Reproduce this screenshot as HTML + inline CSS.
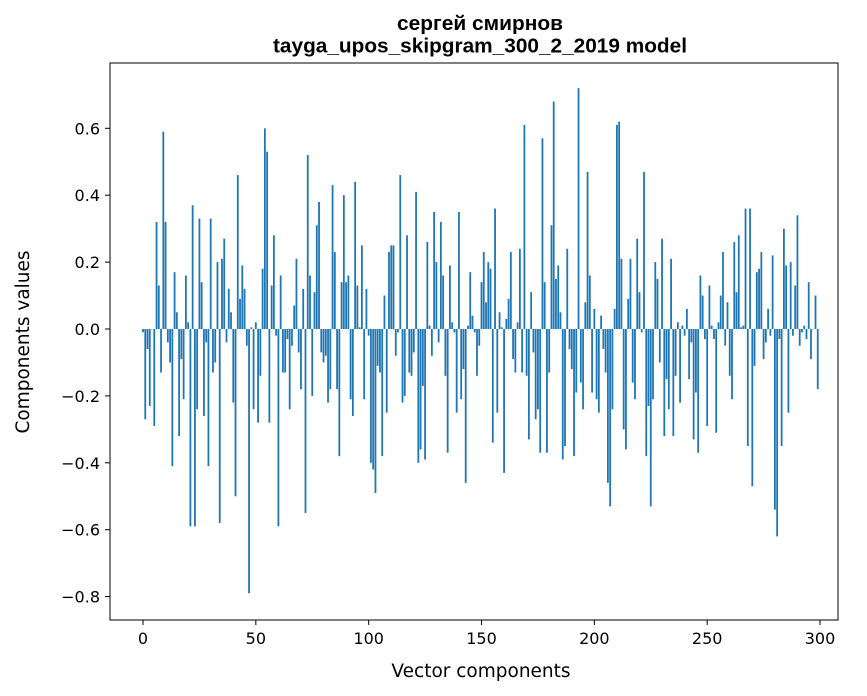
<!DOCTYPE html>
<html><head><meta charset="utf-8"><style>
html,body{margin:0;padding:0;background:#fff;}
svg{display:block;font-family:"DejaVu Sans","Liberation Sans",sans-serif;}
</style></head><body>
<svg id="chart" width="867" height="696" viewBox="0 0 867 696" xmlns="http://www.w3.org/2000/svg">
<rect width="867" height="696" fill="#fff"/>
<text x="480" y="30" text-anchor="middle" font-size="20.5" font-weight="bold" font-family="Liberation Sans, sans-serif" textLength="166" lengthAdjust="spacingAndGlyphs">сергей смирнов</text>
<text x="480" y="52.5" text-anchor="middle" font-size="20.5" font-weight="bold" font-family="Liberation Sans, sans-serif" textLength="414" lengthAdjust="spacingAndGlyphs">tayga_upos_skipgram_300_2_2019 model</text>
<g id="bars"></g>
<g id="axes"></g>
<rect x="110" y="63" width="728" height="557" fill="none" stroke="#000" stroke-width="1"/>
<text x="481" y="677" text-anchor="middle" font-size="18.5">Vector components</text>
<text transform="translate(29,342) rotate(-90)" text-anchor="middle" font-size="18.5">Components values</text>
</svg>
<script>
const values = [
-0.01,-0.27,-0.06,-0.23,0,-0.29,0.32,0.13,-0.13,0.59,
0.32,-0.04,-0.10,-0.41,0.17,0.05,-0.32,-0.09,-0.21,0.16,
0.02,-0.59,0.37,-0.59,-0.24,0.33,0.14,-0.26,-0.04,-0.41,
0.33,-0.13,-0.10,0.20,-0.58,0.21,0.27,-0.04,0.12,0.05,
-0.22,-0.50,0.46,0.09,0.19,0.12,-0.05,-0.79,0.005,-0.24,
0.02,-0.28,-0.14,0.18,0.60,0.53,-0.28,0.13,0.28,-0.02,
-0.59,0.16,-0.13,-0.13,-0.03,-0.24,-0.05,0.07,0.21,-0.07,
-0.18,0.12,-0.55,0.52,0.16,-0.20,0.11,0.31,0.38,-0.07,
-0.10,-0.08,-0.22,-0.18,0.43,0.23,-0.18,-0.38,0.14,0.40,
0.14,0.16,-0.21,-0.26,0.44,0.13,0.005,0.25,-0.21,0.12,
-0.02,-0.40,-0.42,-0.49,-0.11,-0.13,-0.38,0.10,-0.25,0.23,
0.25,0.25,-0.08,-0.01,0.46,-0.22,-0.20,0.28,-0.13,-0.14,
-0.07,0.41,-0.40,-0.36,-0.17,-0.39,0.26,0.01,-0.08,0.35,
0.20,-0.04,0.32,0.16,-0.14,-0.37,0.19,0.02,-0.01,-0.25,
0.35,-0.21,-0.12,-0.46,0.01,0.17,0.04,-0.01,-0.14,-0.05,
0.14,0.23,0.08,0.20,0.18,-0.34,0.36,-0.25,0.05,0.005,
-0.43,0.03,0.09,0.23,-0.09,-0.13,0.02,0.24,-0.13,0.61,
-0.14,-0.33,0.11,-0.07,-0.27,-0.24,-0.37,0.57,0.14,-0.37,
-0.13,0.31,0.68,0.15,0.19,0.05,-0.39,-0.35,0.24,-0.06,
-0.12,-0.38,-0.19,0.72,-0.16,-0.24,0.08,0.47,0.16,-0.19,
0.06,-0.21,-0.25,0.04,-0.06,-0.13,-0.46,-0.53,-0.24,0.06,
0.61,0.62,0.21,-0.30,-0.36,0.09,0.21,-0.16,-0.21,0.27,
0.11,-0.01,0.47,-0.38,-0.23,-0.53,-0.21,0.20,0.15,-0.10,
0.27,-0.32,-0.15,-0.24,0.21,-0.32,-0.14,0.02,-0.22,0.01,
-0.02,0.06,-0.15,-0.04,-0.33,-0.19,-0.37,0.16,0.10,-0.03,
-0.29,0.13,0.01,-0.03,-0.31,0.02,0.10,0.23,-0.05,0.08,
-0.14,-0.21,0.26,0.11,0.28,0.005,0.01,0.36,-0.35,0.36,
-0.47,-0.11,0.17,0.18,0.23,-0.09,-0.04,0.06,-0.02,0.22,
-0.54,-0.62,-0.03,-0.35,0.30,0.19,-0.25,0.20,-0.02,0.13,
0.34,-0.05,-0.01,0.01,-0.03,0.14,-0.09,0,0.10,-0.18
];
const xTicks = [0,50,100,150,200,250,300];
const yTicks = [-0.8,-0.6,-0.4,-0.2,0.0,0.2,0.4,0.6];
const yTickLabels = ["\u22120.8","\u22120.6","\u22120.4","\u22120.2","0.0","0.2","0.4","0.6"];

const NS = "http://www.w3.org/2000/svg";
const xScale = v => 143 + v * 2.2567;
const yScale = v => 329 - v * 334.5;
const bw = 0.8 * 2.2567;
const bars = document.getElementById('bars');
values.forEach((v, i) => {
  const r = document.createElementNS(NS, 'rect');
  const y0 = yScale(0), y1 = yScale(v);
  r.setAttribute('x', xScale(i) - bw / 2);
  r.setAttribute('y', Math.min(y0, y1));
  r.setAttribute('width', bw);
  r.setAttribute('height', Math.max(Math.abs(y1 - y0), 0.3));
  r.setAttribute('fill', '#1f77b4');
  
  
  bars.appendChild(r);
});
const axes = document.getElementById('axes');
xTicks.forEach(t => {
  const x = xScale(t);
  const l = document.createElementNS(NS, 'line');
  l.setAttribute('x1', x); l.setAttribute('x2', x);
  l.setAttribute('y1', 620); l.setAttribute('y2', 625);
  l.setAttribute('stroke', '#000');
  
  
  axes.appendChild(l);
  const tx = document.createElementNS(NS, 'text');
  tx.setAttribute('x', x); tx.setAttribute('y', 644);
  tx.setAttribute('text-anchor', 'middle'); tx.setAttribute('font-size', '16');
  tx.textContent = t;
  
  
  axes.appendChild(tx);
});
yTicks.forEach((t, k) => {
  const y = yScale(t);
  const l = document.createElementNS(NS, 'line');
  l.setAttribute('x1', 105); l.setAttribute('x2', 110);
  l.setAttribute('y1', y); l.setAttribute('y2', y);
  l.setAttribute('stroke', '#000');
  
  
  axes.appendChild(l);
  const tx = document.createElementNS(NS, 'text');
  tx.setAttribute('x', 100); tx.setAttribute('y', y + 6);
  tx.setAttribute('text-anchor', 'end'); tx.setAttribute('font-size', '16');
  tx.textContent = yTickLabels[k];
  
  
  axes.appendChild(tx);
});
</script>
</body></html>
